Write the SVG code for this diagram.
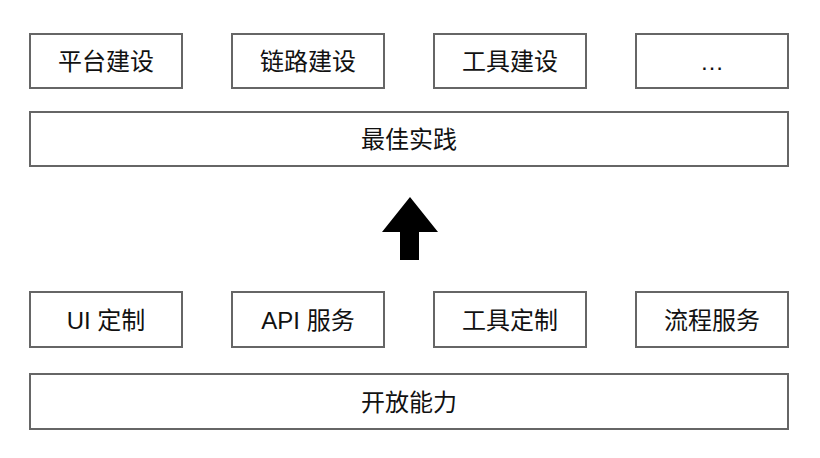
<svg xmlns="http://www.w3.org/2000/svg" width="820" height="458" viewBox="0 0 820 458">
<style>
.box{fill:#fff;stroke:#666;stroke-width:2}
.t{font-family:"Liberation Sans","Noto Sans CJK SC",sans-serif;font-size:24px;fill:#111;text-anchor:middle;dominant-baseline:central}
</style>
<rect width="820" height="458" fill="#fff"/>
<g id="n1"><rect class="box" x="30" y="34" width="152" height="54"/><text class="t" x="106" y="61">平台建设</text></g>
<g id="n2"><rect class="box" x="232" y="34" width="152" height="54"/><text class="t" x="308" y="61">链路建设</text></g>
<g id="n3"><rect class="box" x="434" y="34" width="152" height="54"/><text class="t" x="510" y="61">工具建设</text></g>
<g id="n4"><rect class="box" x="636" y="34" width="152" height="54"/><text class="t" x="712" y="61">…</text></g>
<g id="n5"><rect class="box" x="30" y="112" width="758" height="54"/><text class="t" x="409" y="139">最佳实践</text></g>
<g id="connectors"><polygon points="410,197 382,232 400,232 400,260 419,260 419,232 438,232" fill="#000"/></g>
<g id="n6"><rect class="box" x="30" y="292" width="152" height="55"/><text class="t" x="106" y="320">UI 定制</text></g>
<g id="n7"><rect class="box" x="232" y="292" width="152" height="55"/><text class="t" x="308" y="320">API 服务</text></g>
<g id="n8"><rect class="box" x="434" y="292" width="152" height="55"/><text class="t" x="510" y="320">工具定制</text></g>
<g id="n9"><rect class="box" x="636" y="292" width="152" height="55"/><text class="t" x="712" y="320">流程服务</text></g>
<g id="n10"><rect class="box" x="30" y="374" width="758" height="55"/><text class="t" x="409" y="402">开放能力</text></g>
</svg>
